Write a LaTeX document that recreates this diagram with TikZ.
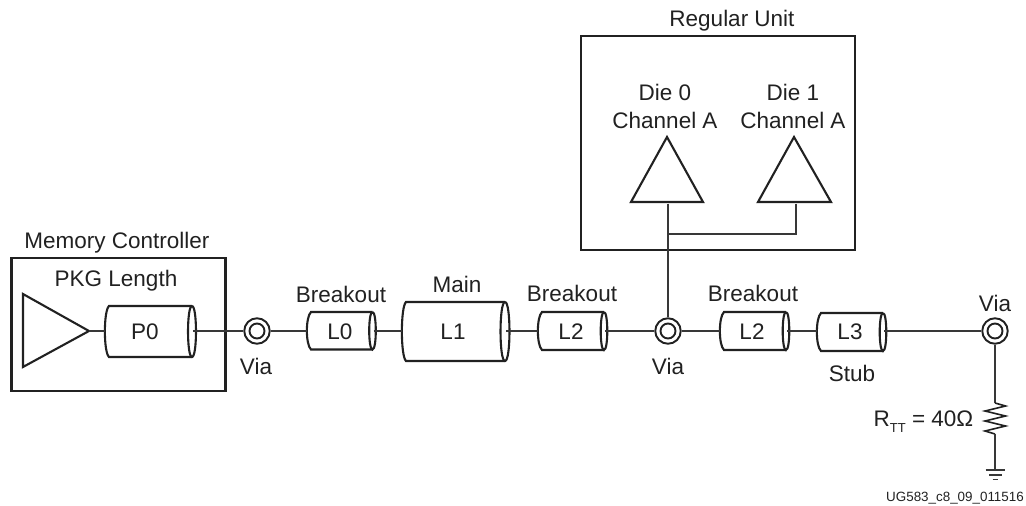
\documentclass[tikz,border=0pt]{standalone}
\usepackage{fontspec}
\setmainfont{Liberation Sans}
\definecolor{ink}{gray}{0.13}
\definecolor{wire}{gray}{0.22}
\tikzset{
  x=1pt,y=-1pt,
  heavy/.style={draw=ink,line width=2.1pt,line join=miter},
  wireline/.style={draw=wire,line width=1.3pt},
  lbl/.style={inner sep=0pt,text=ink,font=\fontsize{22.5}{25}\selectfont,anchor=base},
  viaouter/.style={circle,draw=ink,line width=1.9pt,minimum size=25.5pt,inner sep=0pt},
  viainner/.style={circle,draw=ink,line width=1.9pt,minimum size=15pt,inner sep=0pt},
}
% #1 name, #2 left, #3 ellipse centre x, #4 top, #5 bottom, #6 ellipse rx, #7 text, #8 text x
\newcommand{\cylbox}[8]{%
  \path[heavy,fill=white] (#3,#4) -- (#2+4,#4) .. controls (#2-1.5,#4+5) and (#2-1.5,#5-5) .. (#2+4,#5) -- (#3,#5);
  \path[heavy] (#3,#4) .. controls (#3-#6*1.33,#4) and (#3-#6*1.33,#5) .. (#3,#5)
               .. controls (#3+#6*1.33,#5) and (#3+#6*1.33,#4) .. (#3,#4);
  \node[lbl] (#1) at (#8,{331+8.5}) {#7};
  \coordinate (#1in) at (#2,331);
  \coordinate (#1out) at (#3+1,331);
}
\begin{document}
\begin{tikzpicture}
\useasboundingbox (0,0) rectangle (1026,506);
% boxes
\node[draw=ink,line width=2.4pt,minimum width=214pt,minimum height=133pt,inner sep=0pt] (mc) at (118.3,324.5) {};
\node[draw=ink,line width=2.4pt,minimum width=274pt,minimum height=214pt,inner sep=0pt] (ru) at (718,143) {};
% cylinders
\cylbox{p0}{105}{192}{306}{357}{4}{P0}{145}
\cylbox{l0}{307}{372.5}{312}{349.5}{3.3}{L0}{340}
\cylbox{l1}{402}{505}{302}{361}{4.5}{L1}{453}
\cylbox{l2a}{538}{604}{312}{350}{3.3}{L2}{571}
\cylbox{l2b}{720}{786}{312}{350}{3.3}{L2}{752}
\cylbox{l3}{817}{883}{313}{351}{3.3}{L3}{850}
% vias
\node[viaouter] (v1) at (257,331) {};
\node[viainner] (v1i) at (257,331) {};
\node[viaouter] (v2) at (668,331) {};
\node[viainner] (v2i) at (668,331) {};
\node[viaouter] (v3) at (995,331) {};
\node[viainner] (v3i) at (995,331) {};
% triangles
\coordinate (drv) at (89,331);
\draw[heavy] (23,294) -- (drv) -- (23,367) -- cycle;
\coordinate (d0a) at (667,137);
\coordinate (d1a) at (794,137);
\draw[heavy] (631,202) -- (d0a) -- (703,202) -- cycle;
\draw[heavy] (758,202) -- (d1a) -- (831,202) -- cycle;
\coordinate (d0b) at (668,203.5);
\coordinate (d1b) at (796,203.5);
\coordinate (bus) at (668,234);
% wires
\draw[wireline] (drv) -- (p0in);
\draw[wireline] (p0out) -- (v1);
\draw[wireline] (v1) -- (l0in);
\draw[wireline] (l0out) -- (l1in);
\draw[wireline] (l1out) -- (l2ain);
\draw[wireline] (l2aout) -- (v2);
\draw[wireline] (v2) -- (l2bin);
\draw[wireline] (l2bout) -- (l3in);
\draw[wireline] (l3out) -- (v3);
\draw[wireline] (d0b) -- (v2);
\draw[wireline] (d1b) |- (bus);
% termination
\coordinate (rt) at (995,403);
\coordinate (rb) at (995,434);
\coordinate (gnd) at (995,470);
\draw[wireline] (v3) -- (rt);
\draw[heavy,line width=1.6pt,line join=miter] (rt) -- (1005.5,406) -- (985,411) -- (1005.5,416) -- (985,421) -- (1005.5,426) -- (985,431) -- (rb);
\draw[wireline] (rb) -- (gnd);
\draw[wireline] (985.5,470) -- (1005,470);
\draw[wireline] (989,475) -- (1001.5,475);
\draw[wireline] (992.5,479.5) -- (998,479.5);
% labels
\node[lbl] (tmc) at (117,248) {Memory Controller};
\node[lbl] (tpkg) at (116,286) {PKG Length};
\node[lbl] (tv1) at (256,374) {Via};
\node[lbl] (tb0) at (341,302) {Breakout};
\node[lbl] (tmain) at (457,292) {Main};
\node[lbl] (tb1) at (572,301) {Breakout};
\node[lbl] (tv2) at (668,374) {Via};
\node[lbl] (tb2) at (753,301) {Breakout};
\node[lbl] (tstub) at (852,381) {Stub};
\node[lbl] (tv3) at (995,311) {Via};
\node[lbl] (trt) at (923.5,426) {R\raisebox{-6pt}{\fontsize{13}{13}\selectfont TT} = 40Ω};
\node[lbl] (tru) at (732,26) {Regular Unit};
\node[lbl] (td0) at (665,100) {Die 0};
\node[lbl] (tc0) at (665,128) {Channel A};
\node[lbl] (td1) at (793,100) {Die 1};
\node[lbl] (tc1) at (793,128) {Channel A};
\node[lbl,font=\fontsize{13.4}{15}\selectfont] (tug) at (955,501) {UG583\_c8\_09\_011516};
\end{tikzpicture}
\end{document}
